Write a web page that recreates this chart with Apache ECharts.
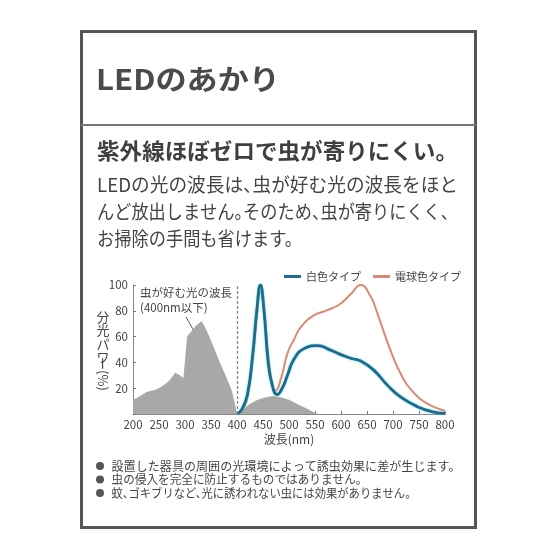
<!DOCTYPE html>
<html>
<head>
<meta charset="utf-8">
<script src="https://cdn.jsdelivr.net/npm/echarts@6/dist/echarts.min.js"></script>
<style>
html,body{margin:0;padding:0;background:#fff;}
#c{width:560px;height:560px;}
</style>
</head>
<body>
<div id="c"></div>
<script>
// ---- data ----
var xTicks = [200, 250, 300, 350, 400, 450, 500, 550, 600, 650, 700, 750, 800];
var yTicks = [20, 40, 60, 80, 100];
var insectNm  = [200, 210, 226, 245, 258, 270, 281, 290, 297, 304, 312, 320, 332, 340, 348, 358, 367, 378, 390, 396, 400, 410, 425, 440, 455, 470, 485, 500, 515, 530, 545, 555];
var insectVal = [11, 13, 17, 19, 22, 26, 32, 30, 28, 60, 64, 68, 72, 66, 59, 49, 40, 30, 18, 8, 0, 3, 8, 11, 13, 14, 13, 11, 8, 5, 2, 0];
var whiteNm  = [400, 410, 420, 430, 438, 445, 452, 460, 468, 477, 487, 497, 509, 528, 555, 580, 600, 620, 638, 663, 690, 715, 748, 779, 800];
var whiteVal = [0, 4, 15, 45, 80, 100, 80, 40, 22, 15, 20, 30, 42, 50.5, 53, 49.5, 46, 43, 41, 34, 22, 13, 5.5, 1.5, 0.5];
var bulbNm  = [400, 410, 420, 430, 438, 445, 452, 460, 467, 474, 485, 497, 510, 522, 548, 574, 599, 619, 638, 657, 670, 690, 715, 741, 766, 792, 800];
var bulbVal = [0, 3, 13, 42, 75, 95, 80, 45, 25, 18, 28, 47, 58, 67, 76.5, 80.5, 85.5, 93, 100, 91, 78, 55, 31, 16, 8, 3.5, 2.5];
var seriesNames = ['白色タイプ', '電球色タイプ'];
var titleText = 'LEDのあかり';
var headText = '紫外線ほぼゼロで虫が寄りにくい。';
var bodyLines = ['LEDの光の波長は、虫が好む光の波長をほと', 'んど放出しません。そのため、虫が寄りにくく、', 'お掃除の手間も省けます。'];
var noteLines = ['設置した器具の周囲の光環境によって誘虫効果に差が生じます。', '虫の侵入を完全に防止するものではありません。', '蚊、ゴキブリなど、光に誘われない虫には効果がありません。'];
var annoLines = ['虫が好む光の波長', '(400nm以下)'];
var cutoffNm = 400;

function pairs(xs, ys){ return xs.map(function(x,i){ return [x, ys[i]]; }); }

var FONT = '"Noto Sans CJK JP", "Noto Sans", sans-serif';
var TXT = '#444';
var mctx = document.createElement('canvas').getContext('2d');

// lay out a Japanese line with half-width punctuation, fitted to a target width
function layoutLine(str, x0, y, font, size, target, color){
  mctx.font = font;
  var segs = [], cur = '';
  for (var i = 0; i < str.length; i++){
    cur += str[i];
    if ((str[i] === '、' || str[i] === '。') && i < str.length - 1){ segs.push({t:cur, cut:true}); cur = ''; }
  }
  if (cur) segs.push({t:cur, cut:false});
  var total = 0;
  segs.forEach(function(s){ s.w = mctx.measureText(s.t).width - (s.cut ? size*0.5 : 0); total += s.w; });
  var sc = target ? target / total : 1;
  var out = [], x = x0;
  segs.forEach(function(s){
    out.push({type:'text', x:x, y:y, scaleX:sc, style:{text:s.t, font:font, fill:color || TXT, textVerticalAlign:'middle'}});
    x += s.w * sc;
  });
  return out;
}

var chart = echarts.init(document.getElementById('c'), null, {renderer:'canvas'});

var graphics = [
  {type:'rect', shape:{x:81.5, y:31.5, width:394, height:496}, style:{fill:'none', stroke:'#555', lineWidth:3}, z:10},
  {type:'line', shape:{x1:81, y1:125, x2:476, y2:125}, style:{stroke:'#777', lineWidth:2}, z:10},
  {type:'text', x:140, y:293, style:{text:annoLines[0], font:'11.5px ' + FONT, fill:TXT, textVerticalAlign:'middle'}},
  {type:'text', x:140, y:308, style:{text:annoLines[1], font:'11.5px ' + FONT, fill:TXT, textVerticalAlign:'middle'}},
  {type:'line', shape:{x1:186, y1:317, x2:194, y2:331}, style:{stroke:'#555', lineWidth:1}},
  {type:'text', x:103, y:310, style:{text:'分\n光\nパ\nワ', font:'13px ' + FONT, lineHeight:13.5, fill:TXT, textAlign:'center'}},
  {type:'text', x:103, y:374, rotation:-Math.PI/2, style:{text:'ー(%)', font:'13px ' + FONT, fill:TXT, textAlign:'center', textVerticalAlign:'middle'}}
];
graphics = graphics.concat(layoutLine(titleText, 96, 79, 'bold 28px ' + FONT, 28, 184, '#4a4a4a'));
graphics = graphics.concat(layoutLine(headText, 97, 151, 'bold 22px ' + FONT, 22, 361, '#3f3f3f'));
var bodyTargets = [361, 361, 205];
bodyLines.forEach(function(t,i){
  graphics = graphics.concat(layoutLine(t, 97, 185 + i*27, '19px ' + FONT, 19, bodyTargets[i]));
});
var noteTargets = [349, 256, 305];
noteLines.forEach(function(t,i){
  graphics.push({type:'circle', shape:{cx:100, cy:466 + i*13.5, r:4}, style:{fill:'#555'}});
  graphics = graphics.concat(layoutLine(t, 111.5, 466 + i*13.5, '12px ' + FONT, 12, noteTargets[i]));
});

var option = {
  animation:false,
  backgroundColor:'#fff',
  graphic:graphics,
  legend:{
    data:seriesNames,
    left:279, top:266,
    icon:'rect', itemWidth:17, itemHeight:3, itemGap:12,
    textStyle:{fontFamily:FONT, fontSize:11, color:TXT}
  },
  grid:{left:133, top:285, width:312, height:129},
  xAxis:{
    type:'value', min:200, max:800, interval:50,
    name:'波長(nm)', nameLocation:'middle', nameGap:19,
    nameTextStyle:{fontFamily:FONT, fontSize:12, color:TXT},
    axisLine:{lineStyle:{color:'#888', width:1}},
    axisTick:{inside:true, length:3, lineStyle:{color:'#777'}},
    axisLabel:{fontFamily:FONT, fontSize:11.5, color:TXT, margin:5, formatter:function(v){return xTicks.indexOf(v)>=0? String(v):'';}},
    splitLine:{show:false}
  },
  yAxis:{
    type:'value', min:0, max:100, interval:20,
    axisLine:{show:true, lineStyle:{color:'#888', width:1}},
    axisTick:{show:true, inside:true, length:3, lineStyle:{color:'#777'}},
    axisLabel:{fontFamily:FONT, fontSize:11.5, color:TXT, margin:5, formatter:function(v){return yTicks.indexOf(v)>=0? String(v):'';}},
    splitLine:{show:false}
  },
  series:[
    {
      name:'虫', type:'line', data:pairs(insectNm, insectVal), symbol:'none', smooth:false,
      lineStyle:{width:0}, areaStyle:{color:'#a8a8a8', opacity:1}, z:1,
      markLine:{
        silent:true, symbol:'none', label:{show:false},
        lineStyle:{color:'#888', type:[3,2], width:1.3},
        data:[[{coord:[cutoffNm,0]},{coord:[cutoffNm,100]}]]
      }
    },
    {
      name:seriesNames[1], type:'line', data:pairs(bulbNm, bulbVal), symbol:'none',
      smooth:0.5,
      lineStyle:{color:'#d98a72', width:2}, itemStyle:{color:'#d98a72'}, z:3
    },
    {
      name:seriesNames[0], type:'line', data:pairs(whiteNm, whiteVal), symbol:'none',
      smooth:0.5,
      lineStyle:{color:'#1e6b8a', width:2.8, shadowColor:'rgba(70,205,240,0.9)', shadowBlur:2},
      itemStyle:{color:'#1e6b8a'}, z:4
    }
  ]
};
chart.setOption(option);
</script>
</body>
</html>
